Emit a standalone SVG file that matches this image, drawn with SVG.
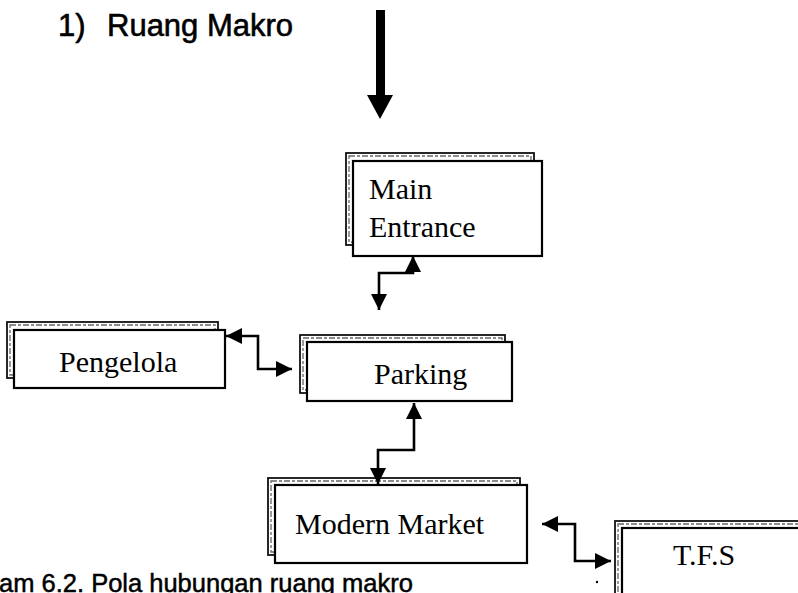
<svg xmlns="http://www.w3.org/2000/svg" width="798" height="593" viewBox="0 0 798 593">
  <style>
    .title { font-family: "Liberation Sans", Arial, sans-serif; font-size: 31px; fill: #000; stroke: #000; stroke-width: 0.6; }
    .caption { font-family: "Liberation Sans", Arial, sans-serif; font-size: 25.5px; fill: #000; stroke: #000; stroke-width: 0.5; }
    .label { font-family: "Liberation Serif", "Times New Roman", serif; font-size: 30px; fill: #000; }
    .shadow { fill: #fff; stroke: #111; stroke-width: 1.8; }
    .shadow-in { fill: none; stroke: #666; stroke-width: 1.3; stroke-dasharray: 6 2 3 2; }
    .box { fill: #fff; stroke: #000; stroke-width: 2.2; }
    .link { fill: none; stroke: #000; stroke-width: 2.6; }
  </style>
  <defs>
    <marker id="ah" viewBox="0 0 10 10" refX="10" refY="5" markerWidth="16" markerHeight="16" markerUnits="userSpaceOnUse" orient="auto-start-reverse">
      <path d="M0,0 L10,5 L0,10 z" fill="#000"/>
    </marker>
  </defs>

  <rect width="798" height="593" fill="#fff"/>

  <!-- heading -->
  <text class="title" y="36"><tspan x="58">1)</tspan><tspan x="107">Ruang Makro</tspan></text>

  <!-- entry arrow -->
  <g id="entry-arrow">
    <rect x="376" y="10" width="9" height="86" fill="#000"/>
    <polygon points="367,95 393,95 380,119" fill="#000"/>
  </g>

  <g id="main-entrance">
    <rect class="shadow" x="346" y="153" width="188" height="92"/>
    <rect class="shadow-in" x="349" y="156" width="182" height="86"/>
    <rect class="box" x="353" y="161" width="189" height="95"/>
    <text class="label" x="369" y="199">Main</text>
    <text class="label" x="369" y="237">Entrance</text>
  </g>

  <g id="pengelola">
    <rect class="shadow" x="7" y="322" width="211" height="56"/>
    <rect class="shadow-in" x="10" y="325" width="205" height="50"/>
    <rect class="box" x="14" y="330" width="211" height="58"/>
    <text class="label" x="59" y="372">Pengelola</text>
  </g>

  <g id="parking">
    <rect class="shadow" x="300" y="335" width="205" height="58"/>
    <rect class="shadow-in" x="303" y="338" width="199" height="52"/>
    <rect class="box" x="307" y="342" width="205" height="59"/>
    <text class="label" x="374" y="384">Parking</text>
  </g>

  <g id="modern-market">
    <rect class="shadow" x="268" y="478" width="252" height="77"/>
    <rect class="shadow-in" x="271" y="481" width="246" height="71"/>
    <rect class="box" x="275" y="485" width="252" height="78"/>
    <text class="label" x="295" y="534">Modern Market</text>
  </g>

  <g id="tfs">
    <rect class="shadow" x="615" y="521" width="200" height="80"/>
    <rect class="shadow-in" x="618" y="524" width="194" height="74"/>
    <rect class="box" x="622" y="528" width="200" height="80"/>
    <text class="label" x="673" y="565">T.F.S</text>
  </g>

  <g id="connectors">
    <path class="link" d="M413,256 L413,273 L379,273 L379,310" marker-start="url(#ah)" marker-end="url(#ah)"/>
    <path class="link" d="M226,336 L258,336 L258,369 L292,369" marker-start="url(#ah)" marker-end="url(#ah)"/>
    <path class="link" d="M414,403 L414,450 L378,450 L378,484" marker-start="url(#ah)" marker-end="url(#ah)"/>
    <path class="link" d="M542,524 L575,524 L575,561 L611,561" marker-start="url(#ah)" marker-end="url(#ah)"/>
  </g>

  <circle cx="597" cy="582" r="1.2" fill="#000"/>

  <text class="caption" x="-1" y="592">am 6.2. Pola hubungan ruang makro</text>
</svg>
